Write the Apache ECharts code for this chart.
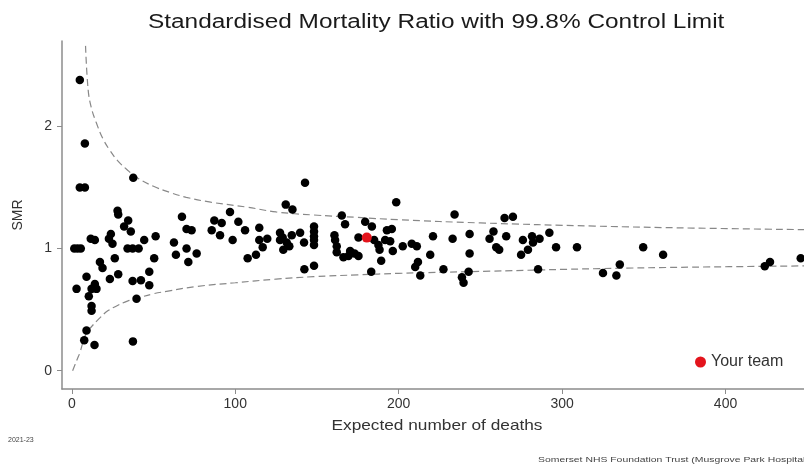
<!DOCTYPE html>
<html>
<head>
<meta charset="utf-8">
<script src="https://cdn.jsdelivr.net/npm/echarts@6/dist/echarts.min.js"></script>
<style>html,body{margin:0;padding:0;background:#fff}#c{width:804px;height:465px}</style>
</head>
<body>
<div id="c"></div>
<script>
// Trust points: expected deaths (x) and SMR (y)
const smrX = [4.9,8.0,37.6,4.9,8.0,28.0,28.4,34.5,32.0,36.1,23.9,22.7,24.9,11.6,14.1,44.3,51.3,1.5,3.5,5.5,34.1,37.2,40.9,26.3,50.4,17.2,18.8,62.5,67.4,70.2,73.3,63.7,70.2,71.3,76.4,9.0,47.4,28.4,23.3,37.2,42.3,47.4,2.9,14.1,12.1,15.1,10.4,39.6,12.1,12.1,9.0,7.6,13.9,37.4,
  142.7,130.9,135.0,96.8,87.2,91.7,101.9,85.6,90.7,106.0,98.4,114.7,114.7,119.6,116.8,112.7,107.6,127.4,129.0,127.4,134.6,139.7,131.5,133.1,129.4,142.1,148.2,148.2,148.2,148.2,148.2,142.3,148.2,
  198.5,165.2,234.2,167.2,179.5,183.6,192.8,195.8,160.7,161.1,175.4,185.0,187.6,188.3,191.7,194.8,162.1,162.1,170.3,173.0,175.4,166.2,169.3,196.4,202.5,208.0,211.1,221.0,233.0,219.3,189.3,211.8,210.1,183.2,213.2,227.4,
  264.8,269.9,243.4,238.7,239.7,242.8,243.4,258.0,255.6,259.7,261.5,265.8,276.0,281.6,282.2,286.2,279.1,274.9,285.3,292.2,296.3,309.1,
  349.6,361.8,325.0,333.2,335.3,424.0,427.2,446.0];
const smrY = [2.38,1.86,1.58,1.50,1.50,1.31,1.28,1.23,1.18,1.14,1.12,1.08,1.04,1.08,1.07,1.07,1.10,1.00,1.00,1.00,1.00,1.00,1.00,0.92,0.92,0.89,0.84,1.05,1.26,1.16,1.15,0.95,1.00,0.89,0.96,0.77,0.81,0.79,0.75,0.735,0.74,0.70,0.67,0.71,0.67,0.67,0.61,0.59,0.53,0.49,0.33,0.25,0.21,0.24,
  1.54,1.36,1.32,1.30,1.23,1.21,1.22,1.15,1.11,1.15,1.07,1.17,1.07,1.08,1.01,0.95,0.92,1.13,1.09,1.07,1.11,1.13,1.05,1.02,0.99,1.05,1.18,1.14,1.10,1.07,1.03,0.83,0.86,
  1.38,1.27,1.28,1.20,1.22,1.18,1.15,1.16,1.11,1.07,1.09,1.07,1.03,0.99,1.07,1.06,1.02,0.97,0.98,0.96,0.94,0.93,0.94,0.98,1.02,1.04,1.02,1.10,1.08,0.95,0.90,0.89,0.85,0.81,0.78,0.83,
  1.25,1.26,1.12,0.765,0.72,0.81,0.96,1.14,1.08,1.01,0.99,1.10,1.07,1.10,1.05,1.08,0.99,0.95,0.83,1.13,1.01,1.01,
  1.01,0.95,0.80,0.78,0.87,0.855,0.89,0.92];
// Highlighted team
const teamX = [180.5];
const teamY = [1.09];
// 99.8% control limits
const upperX = [8.4,10,12,15,19,23,28,33.5,40,50,60,70,85,107,125,148,175,200,250,320,380,448];
const upperY = [2.66,2.30,2.15,2.03,1.90,1.81,1.72,1.65,1.58,1.51,1.46,1.42,1.38,1.34,1.30,1.275,1.255,1.236,1.21,1.184,1.168,1.155];
const lowerX = [0.5,2,3.5,5,7,9,12,17,22,27.4,34,41.7,50,58,76.4,100,125,148,175,200,256,323,380,448];
const lowerY = [0.0,0.05,0.10,0.15,0.24,0.31,0.36,0.43,0.49,0.53,0.57,0.60,0.63,0.65,0.69,0.72,0.75,0.77,0.785,0.797,0.815,0.836,0.848,0.858];
const xTicks = [0,100,200,300,400];
const yTicks = [0,1,2];

const zip = (a,b) => a.map((v,i)=>[v,b[i]]);
const FONT = 'Liberation Sans, Arial, sans-serif';
const chart = echarts.init(document.getElementById('c'));
const dashStyle = {color:'#888888', width:1.2, type:[7,4]};
chart.setOption({
  animation:false,
  backgroundColor:'#fff',
  legend:{data:[{name:'Your team', icon:'circle'}], left:690, top:349, itemWidth:11, itemHeight:11, itemGap:8,
    textStyle:{fontFamily:FONT, fontSize:16, color:'#333'}},
  grid:{left:62, right:0, top:41, bottom:76, containLabel:false},
  xAxis:{type:'value', min:-6, max:448,
    axisLine:{show:true, onZero:false, lineStyle:{color:'#8c8c8c', width:1.5}},
    axisTick:{show:true, customValues:xTicks, length:5, lineStyle:{color:'#8c8c8c'}},
    axisLabel:{customValues:xTicks, fontFamily:FONT, fontSize:14, color:'#333', margin:8},
    splitLine:{show:false}},
  yAxis:{type:'value', min:-0.15, max:2.7,
    name:'SMR', nameLocation:'middle', nameGap:37,
    nameTextStyle:{fontFamily:FONT, fontSize:14, color:'#333'},
    axisLine:{show:true, onZero:false, lineStyle:{color:'#8c8c8c', width:1.5}},
    axisTick:{show:true, customValues:yTicks, length:5, lineStyle:{color:'#8c8c8c'}},
    axisLabel:{customValues:yTicks, fontFamily:FONT, fontSize:14, color:'#333', margin:10},
    splitLine:{show:false}},
  graphic:[
    {type:'text', x:148, y:12, scaleX:1.22, style:{text:'Standardised Mortality Ratio with 99.8% Control Limit', font:'20px '+FONT, fill:'#1a1a1a'}},
    {type:'text', x:437, y:418, scaleX:1.15, style:{text:'Expected number of deaths', font:'15px '+FONT, fill:'#333', align:'center'}},
    {type:'text', x:8, y:437, style:{text:'2021-23', font:'7px '+FONT, fill:'#444'}},
    {type:'text', x:538, y:456, scaleX:1.3, style:{text:'Somerset NHS Foundation Trust (Musgrove Park Hospital', font:'8px '+FONT, fill:'#444'}}
  ],
  series:[
    {name:'Upper', type:'line', data:zip(upperX,upperY), smooth:0.4, symbol:'none', lineStyle:dashStyle, z:1, silent:true},
    {name:'Lower', type:'line', data:zip(lowerX,lowerY), smooth:0.4, symbol:'none', lineStyle:dashStyle, z:1, silent:true},
    {name:'Trusts', type:'scatter', data:zip(smrX,smrY), symbolSize:8.5, itemStyle:{color:'#000', opacity:1}, z:3},
    {name:'Your team', type:'scatter', data:zip(teamX,teamY), symbolSize:10, itemStyle:{color:'#e3141c', opacity:1}, z:4}
  ]
});
</script>
</body>
</html>
